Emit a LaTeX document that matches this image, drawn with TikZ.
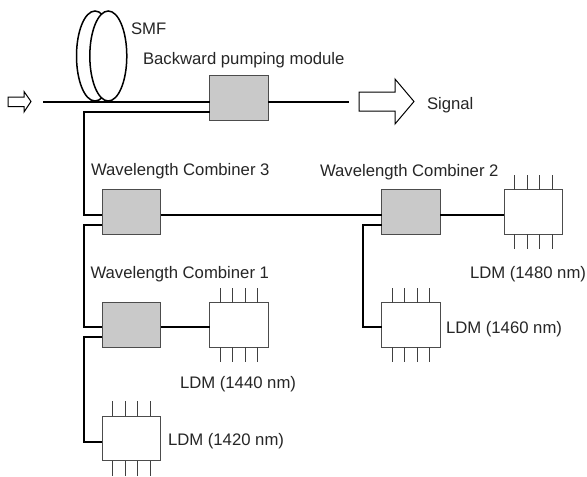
\documentclass[tikz,border=0pt]{standalone}
\usepackage{fontspec}
\setmainfont{Liberation Sans}
\usetikzlibrary{shapes.geometric}
\tikzset{
  fib/.style={line width=2pt,black,line join=miter},
  unitbox/.style={draw=black!70!white,line width=1pt,minimum width=58.5pt,minimum height=44.5pt,inner sep=0pt,outer sep=0pt},
  combiner/.style={unitbox,fill=black!21},
  ldm/.style={unitbox,fill=white},
  pin/.style={line width=1pt,black!75},
  lbl/.style={anchor=base west,inner sep=0pt,outer sep=0pt,font=\fontsize{16.7}{19}\selectfont,text=black!85},
  coil/.style={draw=black,fill=white,line width=1.5pt,ellipse,minimum width=37pt,minimum height=90pt,inner sep=0pt},
  hollow/.style={draw=black,fill=white,line width=1pt,line join=miter}
}
\newcommand{\ldmpins}[1]{%
  \foreach \dx in {-19,-6.5,6,18.5} {
    \draw[pin] ([xshift=\dx pt]#1.north) -- ++(0,-15);
    \draw[pin] ([xshift=\dx pt]#1.south) -- ++(0,15);
  }}
\begin{document}
\begin{tikzpicture}[x=1pt,y=-1pt]
\useasboundingbox[fill=white] (0,0) rectangle (587,477);
% coil
\node[coil] (coilback) at (95,56) {};
\node[coil] (coilfront) at (108.3,56) {};
% boxes
\node[combiner] (bp) at (239.2,98.2) {};
\node[combiner] (wc3) at (131.7,212) {};
\node[combiner] (wc2) at (411,212) {};
\node[combiner] (wc1) at (131.7,325.2) {};
\node[ldm] (l1480) at (533.5,212) {};
\node[ldm] (l1460) at (411,325.2) {};
\node[ldm] (l1440) at (239.2,325.2) {};
\node[ldm] (l1420) at (131.7,438.6) {};
\ldmpins{l1480}\ldmpins{l1460}\ldmpins{l1440}\ldmpins{l1420}
% free ends
\coordinate (in) at (43,101.5);
\coordinate (out) at (349,101.5);
\coordinate (railA) at (84,111.5);
\coordinate (railB) at (84,224.5);
\coordinate (railC) at (84,337);
\coordinate (railD) at (363,224.5);
% fibres
\draw[fib] (in) -- ([yshift=-3.3pt]bp.west);
\draw[fib] ([yshift=-3.3pt]bp.east) -- (out);
\draw[fib] ([yshift=-13.3pt]bp.west) -- (railA) -- (84,214.5) -- ([yshift=-2.5pt]wc3.west);
\draw[fib] ([yshift=-12.5pt]wc3.west) -- (railB) -- (84,327) -- ([yshift=-1.8pt]wc1.west);
\draw[fib] ([yshift=-11.8pt]wc1.west) -- (railC) -- (84,441.6) -- ([yshift=-3pt]l1420.west);
\draw[fib] ([yshift=-2.5pt]wc3.east) -- ([yshift=-2.5pt]wc2.west);
\draw[fib] ([yshift=-2.5pt]wc2.east) -- ([yshift=-2.5pt]l1480.west);
\draw[fib] ([yshift=-12.5pt]wc2.west) -- (railD) -- (363,327) -- ([yshift=-1.8pt]l1460.west);
\draw[fib] ([yshift=-1.8pt]wc1.east) -- ([yshift=-1.8pt]l1440.west);
% hollow arrows
\draw[hollow] (8,97) -- (24,97) -- (24,91.5) -- (31,101.5) -- (24,112) -- (24,106.5) -- (8,106.5) -- cycle;
\draw[hollow] (359,92) -- (395,92) -- (395,79) -- (414,101.5) -- (395,124) -- (395,111) -- (359,111) -- cycle;
% labels
\node[lbl] (tsmf) at (131,34) {SMF};
\node[lbl] (tbp) at (143,64) {Backward pumping module};
\node[lbl] (tsig) at (427,109) {Signal};
\node[lbl] (t3) at (91,175) {Wavelength Combiner 3};
\node[lbl] (t2) at (320,176) {Wavelength Combiner 2};
\node[lbl] (t1) at (90.5,278) {Wavelength Combiner 1};
\node[lbl] (t1480) at (470,278) {LDM (1480 nm)};
\node[lbl] (t1460) at (446,333) {LDM (1460 nm)};
\node[lbl] (t1440) at (180,388) {LDM (1440 nm)};
\node[lbl] (t1420) at (168,445) {LDM (1420 nm)};
\end{tikzpicture}
\end{document}
